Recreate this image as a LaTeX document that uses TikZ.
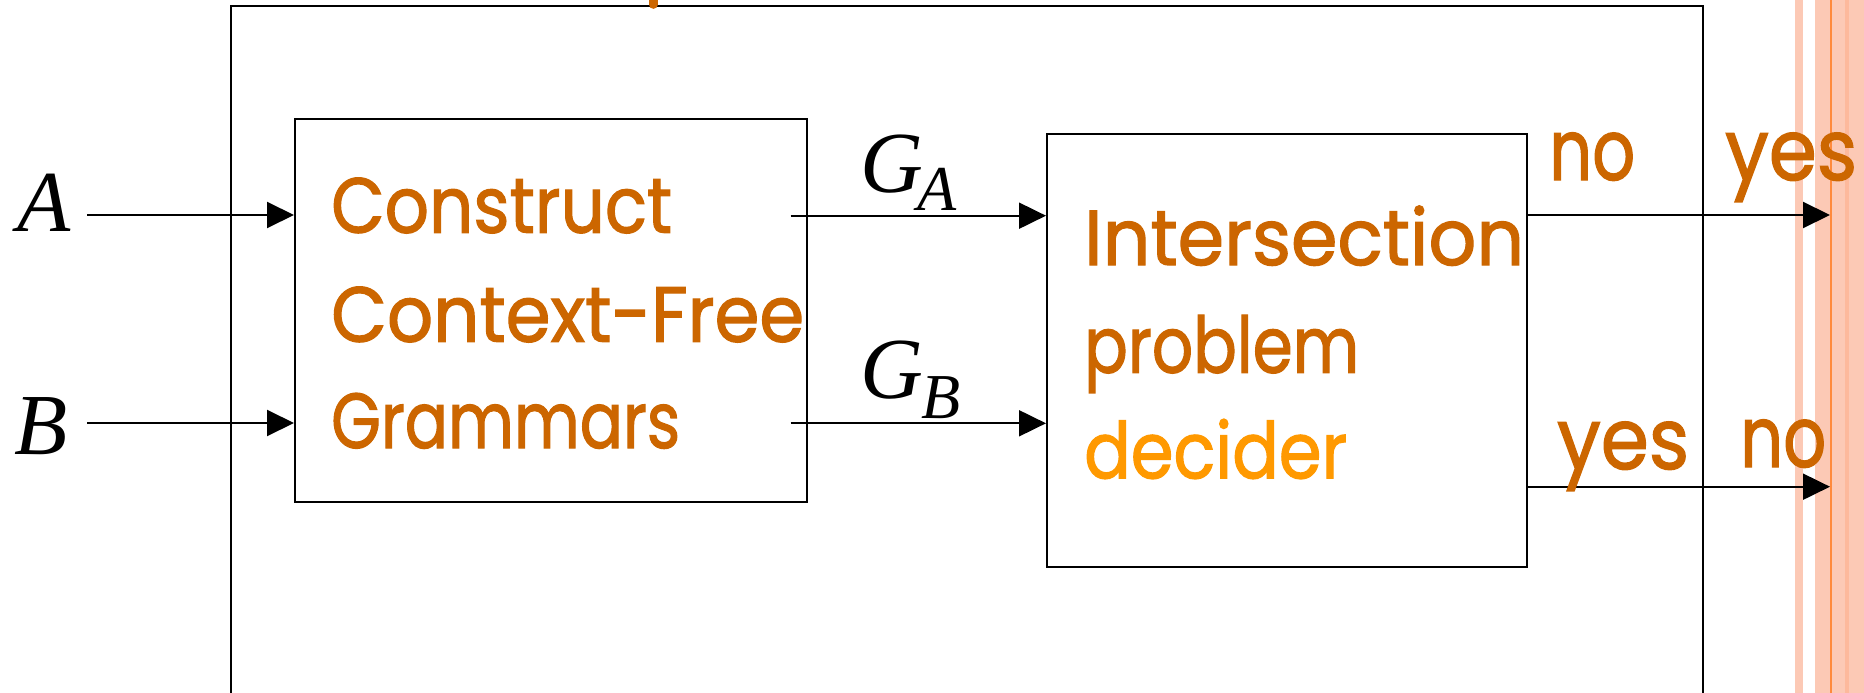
\documentclass[tikz,border=0pt]{standalone}
\usepackage{fontspec}
\usepackage{graphicx}
\setmainfont{Liberation Serif}
\newfontfamily\comicf[FakeBold=1.6]{Poppins}
\usetikzlibrary{arrows.meta}
\definecolor{txtor}{HTML}{CC6600}
\definecolor{ltor}{HTML}{FF9900}
\definecolor{band}{HTML}{FCC9B5}
\definecolor{bandd}{HTML}{FDB99C}
\definecolor{bline}{HTML}{FF8A3C}
\newcommand{\fitw}[2]{\resizebox{#1}{\height}{#2}}
\begin{document}
\begin{tikzpicture}[x=1pt,y=-1pt,
  boxn/.style={draw, line width=2pt, rectangle, inner sep=0pt},
  arr/.style={line width=2pt, -{Triangle[length=27pt,width=26pt]}},
  otext/.style={text=txtor, font=\comicf\fontsize{78}{90}\selectfont, anchor=base west, inner sep=0pt},
  ans/.style={text=txtor, font=\comicf\fontsize{85}{95}\selectfont, anchor=base west, inner sep=0pt},
  mletter/.style={font=\fontsize{87}{100}\selectfont\itshape, anchor=base west, inner sep=0pt}]
\useasboundingbox (0,0) rectangle (1864,693);
\clip (0,0) rectangle (1864,693);
% background stripes
\fill[band] (1795,0) rectangle (1803,693);
\fill[band] (1815,0) rectangle (1864,693);
\fill[bandd] (1845,0) rectangle (1849,693);
\fill[bline] (1830,0) rectangle (1832,693);
% outer box
\node[boxn, minimum width=1472pt, minimum height=760pt] (outer) at (967,386.5) {};
\draw[txtor, line width=8.7pt, line cap=round] (653.3,-10) -- (653.3,4.5);
% inner boxes
\node[boxn, minimum width=512pt, minimum height=383pt] (cfg) at (551,310.5) {};
\node[boxn, minimum width=480pt, minimum height=433pt] (ix) at (1287,350.5) {};
% box texts
\node[otext] (t1) at (331,232.7) {\fitw{341pt}{Construct}};
\node[otext] (t2) at (331,341.7) {\fitw{473pt}{Context-Free}};
\node[otext] (t3) at (331,448) {\fitw{349pt}{Grammars}};
\node[otext] (t4) at (1084,265) {\fitw{440pt}{Intersection}};
\node[otext] (t5) at (1084,372.7) {\fitw{275pt}{problem}};
\node[otext, text=ltor] (t6) at (1084,478.3) {\fitw{263pt}{decider}};
% inputs
\node[mletter] (A) at (17,231) {A};
\node[mletter] (B) at (14,454) {B};
\coordinate (a0) at (87,215);
\coordinate (b0) at (87,423);
\draw[arr] (a0) -- (a0 -| cfg.west);
\draw[arr] (b0) -- (b0 -| cfg.west);
% grammar arrows
\coordinate (g1) at (790.6,215.7);
\coordinate (g2) at (790.6,423.3);
\draw[arr] (g1) -- (g1 -| ix.west);
\draw[arr] (g2) -- (g2 -| ix.west);
\node[mletter] (GA) at (860,192.7) {G\kern-6pt\raisebox{-18pt}{\fontsize{64}{70}\selectfont A}};
\node[mletter] (GB) at (860,398.3) {G\kern-2pt\raisebox{-20pt}{\fontsize{64}{70}\selectfont B}};
% outputs
\coordinate (o1) at (1830,215);
\coordinate (o2) at (1830,486.7);
\draw[arr] (o1 -| ix.east) -- (o1);
\draw[arr] (o2 -| ix.east) -- (o2);
\node[ans] (n1) at (1549,180) {\fitw{86pt}{no}};
\node[ans] (y1) at (1725,180) {\fitw{132pt}{yes}};
\node[ans] (y2) at (1557,469) {\fitw{132pt}{yes}};
\node[ans] (n2) at (1740,467) {\fitw{86pt}{no}};
\end{tikzpicture}
\end{document}
